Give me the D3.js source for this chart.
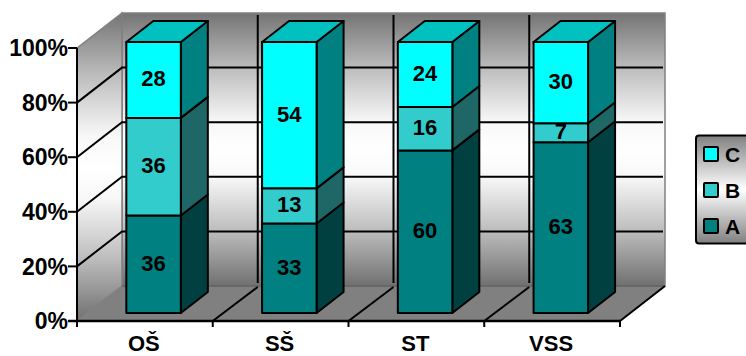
<!DOCTYPE html>
<html><head><meta charset="utf-8">
<script src="https://cdn.jsdelivr.net/npm/d3@7"></script>
<style>html,body{margin:0;padding:0;background:#fff}svg{display:block}text{font-family:"Liberation Sans",Arial,sans-serif;font-weight:700;fill:#000}</style>
</head><body><svg id="c" width="746" height="356"></svg>
<script>
const categories = ["OŠ","SŠ","ST","VSS"];
const seriesNames = ["A","B","C"];
const seriesA = [36,33,60,63];
const seriesB = [36,13,16,7];
const seriesC = [28,54,24,30];
const yTicks = [0,20,40,60,80,100];
const frontColors = ["#008080","#33CCCC","#00FFFF"];
const sideColors = ["#004040","#1F6666","#008080"];
const topColor = "#00C0C0";

const svg = d3.select("#c");
const x = d3.scaleBand().domain(categories).range([77,620]);
const y = d3.scaleLinear().domain([0,100]).range([321,48]);
const yBar = d3.scaleLinear().domain([0,100]).range([313,42]);
const dx = 45, dy = -35;          // depth of the box
const barW = 54.5, bdx = 27, bdy = -21, fdx = 9.5; // bar size and its offset from the front plane

const defs = svg.append("defs");
function grad(id,stops){
  const g = defs.append("linearGradient").attr("id",id).attr("x1",0).attr("y1",0).attr("x2",0).attr("y2",1);
  stops.forEach(s=>g.append("stop").attr("offset",s[0]).attr("stop-color",s[1]));
}
grad("wall",[[0,"#747474"],[0.2,"#bcbcbc"],[0.4,"#f8f8f8"],[0.5,"#ffffff"],[0.6,"#f8f8f8"],[0.8,"#bcbcbc"],[1,"#707070"]]);
grad("legendBg",[[0,"#808080"],[0.5,"#ffffff"],[1,"#808080"]]);

const poly = (pts)=>pts.map(p=>p.join(",")).join(" ");
const left = x.range()[0], right = x.range()[1];
const y0 = y(0), y100 = y(100);

// back wall
svg.append("rect").attr("x",left+dx).attr("y",y100+dy).attr("width",right-left).attr("height",y0-y100)
  .attr("fill","url(#wall)").attr("stroke","#808080").attr("stroke-width",1.5);
// side wall
svg.append("polygon").attr("points",poly([[left,y100],[left+dx,y100+dy],[left+dx,y0+dy],[left,y0]]))
  .attr("fill","url(#wall)").attr("stroke","#808080").attr("stroke-width",1.5);
// floor
svg.append("polygon").attr("points",poly([[left,y0],[left+dx,y0+dy],[right+dx,y0+dy],[right,y0]]))
  .attr("fill","#808080").attr("stroke","#808080");
svg.append("line").attr("x1",left+dx).attr("x2",right+dx).attr("y1",y0+dy).attr("y2",y0+dy).attr("stroke","#505050").attr("stroke-width",1);

const grid = svg.append("g").attr("stroke","#000").attr("stroke-width",2).attr("fill","none");
yTicks.filter(t=>t>0&&t<100).forEach(t=>{
  grid.append("polyline").attr("points",poly([[left,y(t)],[left+dx,y(t)+dy],[right+dx-2,y(t)+dy]]));
});
const boundaries = categories.map(c=>x(c)).slice(1);
boundaries.forEach(b=>{
  grid.append("line").attr("x1",b).attr("y1",y0).attr("x2",b+dx).attr("y2",y0+dy+1);
  grid.append("line").attr("x1",b+dx).attr("y1",y0+dy-3).attr("x2",b+dx).attr("y2",y100+dy+2);
});
// outer front floor edge
grid.append("line").attr("x1",right).attr("y1",y0).attr("x2",right+dx).attr("y2",y0+dy);

// axes
svg.append("line").attr("x1",left).attr("x2",left).attr("y1",y100).attr("y2",y0+3).attr("stroke","#000").attr("stroke-width",2);
svg.append("line").attr("x1",left-9).attr("x2",right).attr("y1",y0).attr("y2",y0).attr("stroke","#000").attr("stroke-width",2.5);
const yAxisG = svg.append("g");
yTicks.forEach(t=>{
  yAxisG.append("line").attr("x1",left-9).attr("x2",left).attr("y1",y(t)).attr("y2",y(t)).attr("stroke","#000").attr("stroke-width",2);
  yAxisG.append("text").attr("x",68).attr("y",y(t)).attr("dy","0.36em").attr("text-anchor","end").attr("font-size",23).text(t+"%");
});
categories.map(c=>x(c)).concat([right]).forEach(b=>{
  svg.append("line").attr("x1",b).attr("x2",b).attr("y1",y0).attr("y2",y0+6).attr("stroke","#000").attr("stroke-width",2);
});
categories.forEach(c=>{
  svg.append("text").attr("x",x(c)+x.bandwidth()/2-1).attr("y",351).attr("text-anchor","middle").attr("font-size",22).text(c);
});

// bars
const series = [seriesA,seriesB,seriesC];
categories.forEach((c,i)=>{
  const bx = x(c)+x.bandwidth()/2 + fdx - barW/2 - 0.8;
  let acc = 0;
  const g = svg.append("g").attr("stroke","#000").attr("stroke-width",2).attr("stroke-linejoin","round");
  series.forEach((s,k)=>{
    const v = s[i];
    const yb = yBar(acc), yt = yBar(acc+v);
    g.append("polygon").attr("points",poly([[bx+barW,yb],[bx+barW+bdx,yb+bdy],[bx+barW+bdx,yt+bdy],[bx+barW,yt]])).attr("fill",sideColors[k]);
    g.append("rect").attr("x",bx).attr("y",yt).attr("width",barW).attr("height",yb-yt).attr("fill",frontColors[k]);
    if(k===series.length-1){
      g.append("polygon").attr("points",poly([[bx,yt],[bx+bdx,yt+bdy],[bx+barW+bdx,yt+bdy],[bx+barW,yt]])).attr("fill",topColor);
    }
    acc += v;
  });
  acc = 0;
  series.forEach((s,k)=>{
    const v = s[i];
    svg.append("text").attr("x",bx+barW/2).attr("y",yBar(acc+v/2)).attr("dy","0.29em").attr("text-anchor","middle").attr("font-size",22).text(v);
    acc += v;
  });
});

// legend
const lg = svg.append("g");
lg.append("rect").attr("x",696).attr("y",135.5).attr("width",60).attr("height",108).attr("rx",3).attr("fill","url(#legendBg)").attr("stroke","#000").attr("stroke-width",2);
const legendY = d3.scalePoint().domain(["C","B","A"]).range([154,226]);
["C","B","A"].forEach(n=>{
  const k = seriesNames.indexOf(n);
  lg.append("rect").attr("x",704).attr("y",legendY(n)-7).attr("width",14).attr("height",14).attr("rx",1).attr("fill",frontColors[k]).attr("stroke","#000").attr("stroke-width",2);
  lg.append("text").attr("x",725).attr("y",legendY(n)).attr("dy","0.36em").attr("font-size",21).text(n);
});
</script></body></html>
